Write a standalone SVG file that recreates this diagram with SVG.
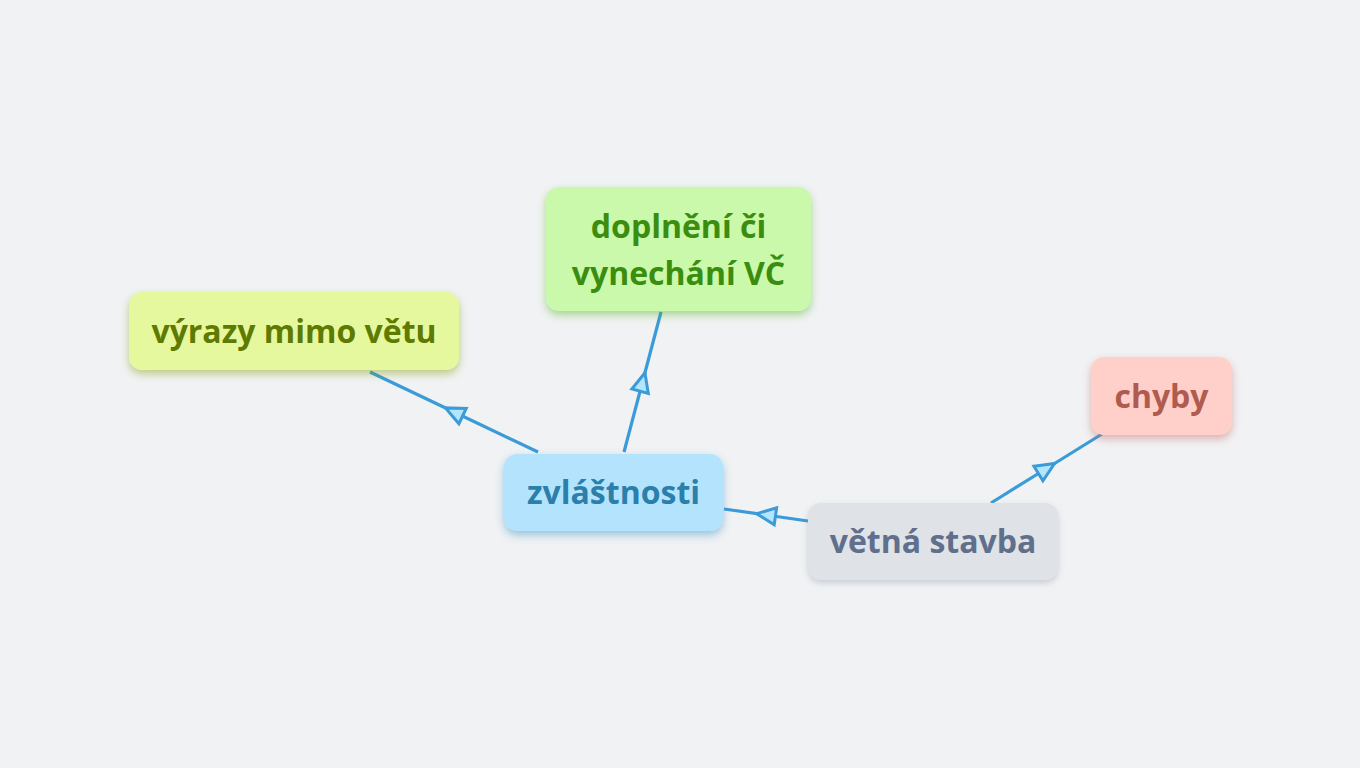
<svg xmlns="http://www.w3.org/2000/svg" width="1360" height="768" viewBox="0 0 1360 768">
<style>
.lbl{font-family:"Open Sans","Noto Sans","DejaVu Sans",sans-serif;font-weight:700;font-size:32px;text-anchor:middle}
.edge{fill:none;stroke:#3a9bd8;stroke-width:3.2;marker-mid:url(#tri)}
</style>
<defs>
<marker id="tri" markerUnits="userSpaceOnUse" viewBox="0 0 22 20" refX="11" refY="10" markerWidth="22" markerHeight="20" orient="auto" overflow="visible">
<path d="M1.5,1.5 L20.5,10 L1.5,18.5 Z" fill="#b3e5fc" stroke="#3a9bd8" stroke-width="3" stroke-linejoin="miter"/>
</marker>
<filter id="shY" x="-20%" y="-30%" width="140%" height="170%"><feDropShadow dx="0" dy="4" stdDeviation="4" flood-color="#7a9a10" flood-opacity="0.45"/></filter>
<filter id="shG" x="-20%" y="-30%" width="140%" height="170%"><feDropShadow dx="0" dy="4" stdDeviation="4" flood-color="#4caf20" flood-opacity="0.45"/></filter>
<filter id="shB" x="-20%" y="-30%" width="140%" height="170%"><feDropShadow dx="0" dy="4" stdDeviation="4" flood-color="#2e86c1" flood-opacity="0.45"/></filter>
<filter id="shS" x="-20%" y="-30%" width="140%" height="170%"><feDropShadow dx="0" dy="3" stdDeviation="3" flood-color="#8a94a6" flood-opacity="0.4"/></filter>
<filter id="shR" x="-20%" y="-30%" width="140%" height="170%"><feDropShadow dx="0" dy="4" stdDeviation="4" flood-color="#c0645a" flood-opacity="0.45"/></filter>
</defs>
<rect width="1360" height="768" fill="#f1f2f4"/>
<g id="connectors">
<path class="edge" d="M538,452 L454,412 L370,372"/>
<path class="edge" d="M624,452 L642.5,382 L661,312"/>
<path class="edge" d="M808,521 L766,515 L724,509"/>
<path class="edge" d="M991,503 L1046.5,468.5 L1102,434"/>
</g>
<g id="node-vyrazy">
<rect x="129" y="292" width="330" height="78" rx="13" fill="#e6f89e" filter="url(#shY)"/>
<text class="lbl" x="294" y="343" fill="#5e7a00">výrazy mimo větu</text>
</g>
<g id="node-doplneni">
<rect x="546" y="187" width="265" height="124" rx="13" fill="#caf9ab" filter="url(#shG)"/>
<text class="lbl" x="678.5" y="238" fill="#3a8d0e">doplnění či</text>
<text class="lbl" x="678.5" y="285" fill="#3a8d0e">vynechání VČ</text>
</g>
<g id="node-zvlastnosti">
<rect x="504" y="454" width="219" height="77" rx="13" fill="#b4e4fd" filter="url(#shB)"/>
<text class="lbl" x="613.5" y="504" fill="#2a7fab">zvláštnosti</text>
</g>
<g id="node-vetna">
<rect x="808" y="503" width="250" height="77" rx="13" fill="#dfe2e6" filter="url(#shS)"/>
<text class="lbl" x="933" y="553" fill="#5f6f8c">větná stavba</text>
</g>
<g id="node-chyby">
<rect x="1091" y="357" width="141" height="78" rx="13" fill="#ffd0c9" filter="url(#shR)"/>
<text class="lbl" x="1161.5" y="408" fill="#b05b4f">chyby</text>
</g>
</svg>
